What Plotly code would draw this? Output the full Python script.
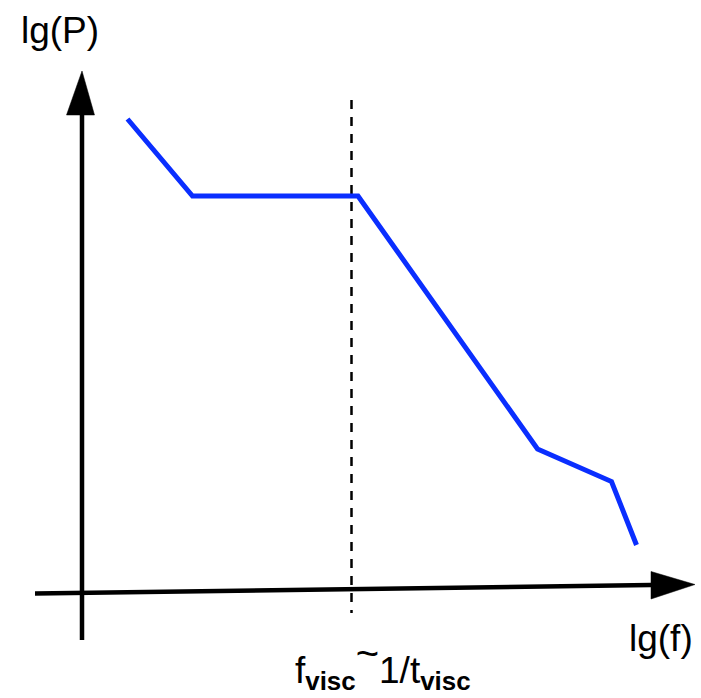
import plotly.graph_objects as go

# Schematic spectrum: lg(P) vs lg(f) (arbitrary units)
lg_f = [0.91, 2.21, 5.52, 9.11, 10.59, 11.09]
lg_P = [9.48, 7.94, 7.94, 2.88, 2.23, 0.96]

# axis arrows (arbitrary units)
xaxis_line_x = [-0.94, 11.38]
xaxis_line_y = [-0.01, 0.16]
xarrow_x = [11.38, 12.26, 11.38, 11.38]
xarrow_y = [0.43, 0.17, -0.12, 0.43]
yaxis_line_x = [0.0, 0.0]
yaxis_line_y = [-0.94, 9.6]
yarrow_x = [-0.31, 0.0, 0.25, -0.31]
yarrow_y = [9.56, 10.44, 9.56, 9.56]

# viscous frequency marker
f_visc = 5.39
marker_y = [9.86, -0.4]

FONT = "Liberation Sans"

fig = go.Figure()
fig.add_trace(go.Scatter(x=xaxis_line_x, y=xaxis_line_y, mode="lines",
                         line=dict(color="black", width=4.5), hoverinfo="skip"))
fig.add_trace(go.Scatter(x=xarrow_x, y=xarrow_y, mode="lines", fill="toself",
                         fillcolor="black", line=dict(color="black", width=0.5), hoverinfo="skip"))
fig.add_trace(go.Scatter(x=yaxis_line_x, y=yaxis_line_y, mode="lines",
                         line=dict(color="black", width=4.5), hoverinfo="skip"))
fig.add_trace(go.Scatter(x=yarrow_x, y=yarrow_y, mode="lines", fill="toself",
                         fillcolor="black", line=dict(color="black", width=0.5), hoverinfo="skip"))
fig.add_trace(go.Scatter(x=[f_visc, f_visc], y=marker_y, mode="lines",
                         line=dict(color="black", width=2.5, dash="9px,8px"), hoverinfo="skip"))
fig.add_trace(go.Scatter(x=lg_f, y=lg_P, mode="lines",
                         line=dict(color="#0a2eff", width=5), hoverinfo="skip"))

fig.add_annotation(x=-0.44, y=11.26, text="lg(P)", showarrow=False,
                   font=dict(family=FONT, size=37, color="black"))
fig.add_annotation(x=11.58, y=-0.9, text="lg(f)", showarrow=False,
                   font=dict(family=FONT, size=37, color="black"))
fig.add_annotation(x=6.02, y=-2.07, yanchor="bottom",
                   text=("f<sub><b>visc</b></sub>"
                         "<sup><span style='font-size:40px'>~</span></sup>"
                         "1/t<sub><b>visc</b></sub>"),
                   showarrow=False, font=dict(family=FONT, size=37, color="black"))

fig.update_xaxes(range=[-1.64, 12.38], visible=False, fixedrange=True)
fig.update_yaxes(range=[-2.1, 11.86], visible=False, fixedrange=True)
fig.update_layout(width=701, height=698, margin=dict(l=0, r=0, t=0, b=0),
                  paper_bgcolor="white", plot_bgcolor="white", showlegend=False)

fig.write_html("out.html")
